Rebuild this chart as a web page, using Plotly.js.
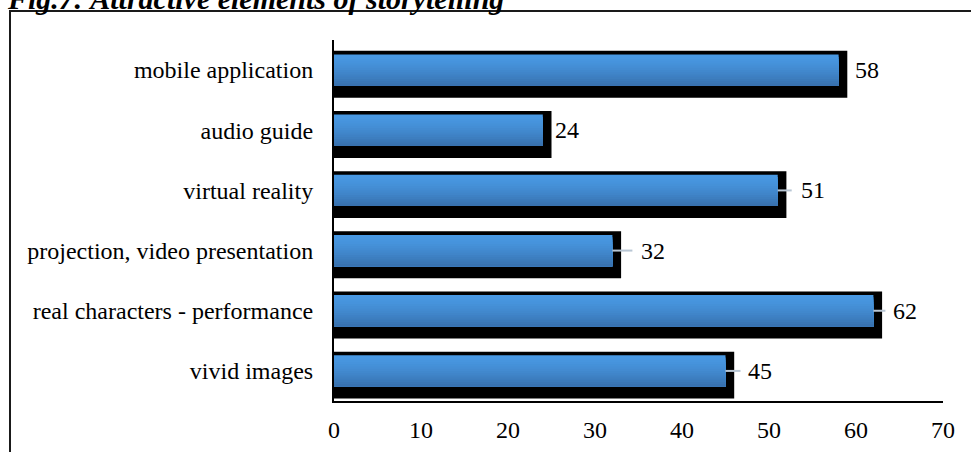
<!DOCTYPE html>
<html>
<head>
<meta charset="utf-8">
<script src="https://cdn.plot.ly/plotly-3.0.1.min.js"></script>
<style>html,body{margin:0;padding:0;background:#fff;}#chart{width:971px;height:452px;}</style>
</head>
<body>
<div id="chart"></div>
<script>
// ---- data (top to bottom as shown) ----
const categories = ["mobile application", "audio guide", "virtual reality",
  "projection, video presentation", "real characters - performance", "vivid images"];
const values = [58, 24, 51, 32, 62, 45];
const xTicks = [0, 10, 20, 30, 40, 50, 60, 70];
const titleText = "Fig.7: Attractive elements of storytelling";

// ---- styling (not data) ----
const W = 971, H = 452;
const M = {l: 334, r: 28, t: 40, b: 51};
const plotW = W - M.l - M.r, plotH = H - M.t - M.b;
const xMax = 70;
const shadowExtra = 1.0;           // shadow sticks out ~1 unit to the right
const labelShift = [16, 12, 23, 29, 20, 22];
const hasLeader = [false, false, true, true, true, true];
const leaderLen = [0, 0, 14, 20, 12, 15];
const font = "'Liberation Serif'";
const fs = 24;

const traces = [];
// black shadow
traces.push({
  type: "bar", orientation: "h", y: categories,
  x: values.map(v => v + shadowExtra + 0.2), base: -0.2,
  width: 0.78, offset: -0.32,
  marker: {color: "#000000", line: {width: 0}},
  hoverinfo: "skip", showlegend: false
});
// blue gradient bar built of overlapping bands
const N = 14;
const colTop = [72, 152, 226], colBot = [56, 114, 176];
const bw = 0.52;
for (let i = 0; i < N; i++) {
  const t = i / (N - 1);
  const tt = Math.pow(t, 1.4);
  const c = colTop.map((a, k) => Math.round(a + (colBot[k] - a) * tt));
  traces.push({
    type: "bar", orientation: "h", y: categories, x: values,
    width: bw - i * bw / N, offset: -bw / 2 + i * bw / N,
    marker: {color: `rgb(${c[0]},${c[1]},${c[2]})`, line: {width: 0}},
    hoverinfo: "skip", showlegend: false
  });
}

const annotations = values.map((v, i) => ({
  x: v, y: categories[i], xref: "x", yref: "y",
  text: String(v), showarrow: false, xanchor: "left", yanchor: "middle",
  xshift: labelShift[i] - 2, font: {family: font, size: fs, color: "#000"}
}));

const shapes = [];
values.forEach((v, i) => {
  if (hasLeader[i]) {
    shapes.push({type: "line", xref: "x", yref: "y", xsizemode: "pixel", xanchor: v,
      x0: 0, x1: leaderLen[i], y0: i, y1: i,
      line: {color: "#b8c6d4", width: 2}});
  }
});
// outer frame
shapes.push({type: "rect", xref: "paper", yref: "paper",
  x0: (10 - M.l) / plotW, x1: (W + 40 - M.l) / plotW,
  y0: (H - M.b - (H + 40)) / plotH, y1: (H - M.b - 11) / plotH,
  line: {color: "#1a1a1a", width: 2}, fillcolor: "rgba(0,0,0,0)", layer: "below"});

const layout = {
  width: W, height: H,
  margin: M,
  paper_bgcolor: "#fff", plot_bgcolor: "#fff",
  barmode: "overlay",
  font: {family: font, size: fs, color: "#000"},
  title: {text: "<b><i>" + titleText + "</i></b>", xref: "container", yref: "container",
    x: 8 / W, xanchor: "left", y: 1 - 9 / H, yanchor: "bottom",
    font: {family: font, size: 30, color: "#000"}},
  xaxis: {range: [0, xMax], tickvals: xTicks, ticktext: xTicks.map(String),
    showgrid: false, zeroline: false, showline: true, linecolor: "#000", linewidth: 2,
    ticks: "", ticklen: 0, ticklabelstandoff: 6,
    tickfont: {family: font, size: fs, color: "#000"}, automargin: false},
  yaxis: {type: "category", categoryorder: "array", categoryarray: categories,
    autorange: "reversed", showgrid: false, zeroline: false, showline: true,
    linecolor: "#000", linewidth: 2, ticks: "", ticklen: 0, ticklabelstandoff: 14,
    tickfont: {family: font, size: fs, color: "#000"}, automargin: false},
  annotations: annotations,
  shapes: shapes,
  hovermode: false
};

Plotly.newPlot("chart", traces, layout, {displayModeBar: false, staticPlot: true});
</script>
</body>
</html>
